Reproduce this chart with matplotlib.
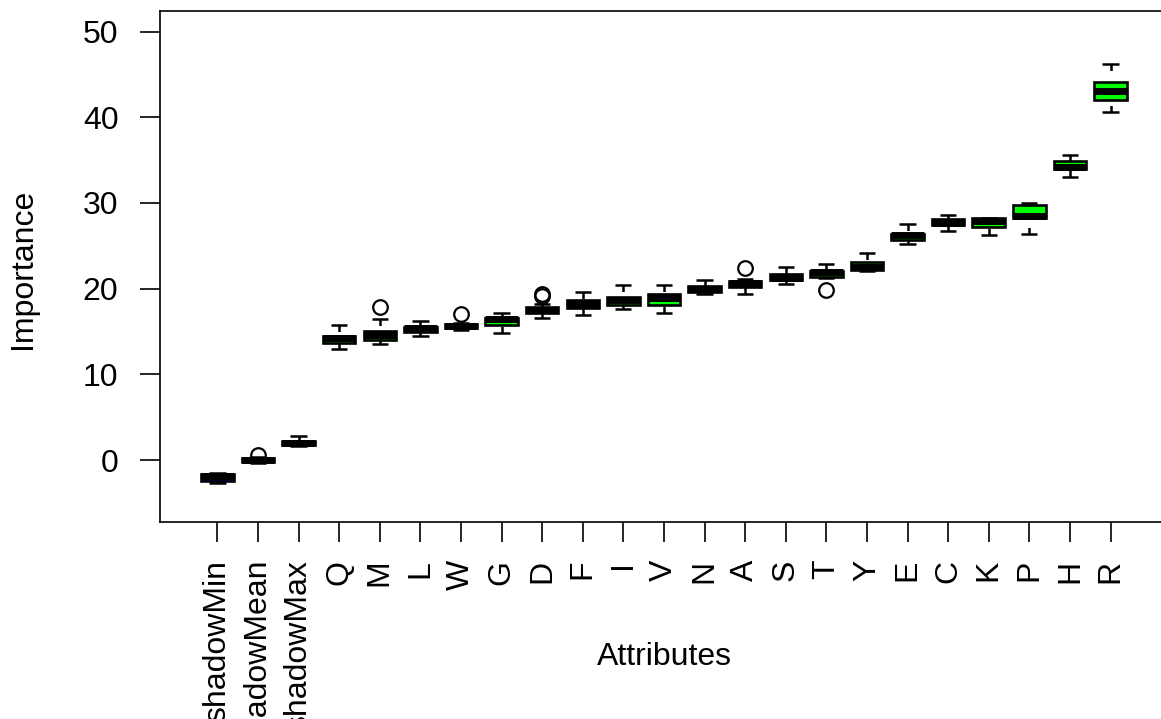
import matplotlib.pyplot as plt

plt.rcParams['font.family'] = ['Liberation Sans', 'DejaVu Sans']
plt.rcParams['lines.scale_dashes'] = False

attributes = ["shadowMin", "shadowMean", "shadowMax", "Q", "M", "L", "W", "G",
              "D", "F", "I", "V", "N", "A", "S", "T", "Y", "E", "C", "K",
              "P", "H", "R"]

# five-number summaries of the importance runs per attribute
whis_lo = [-2.7, -0.4, 1.6, 12.9, 13.5, 14.5, 15.2, 14.8, 16.6, 16.9, 17.6, 17.2,
           19.4, 19.4, 20.5, 21.2, 22.1, 25.2, 26.7, 26.3, 26.4, 33.0, 40.6]
q1 = [-2.45, -0.2, 1.75, 13.6, 14.05, 14.9, 15.35, 15.7, 17.2, 17.7, 18.05, 18.1,
      19.6, 20.15, 21.05, 21.35, 22.2, 25.7, 27.4, 27.2, 28.2, 33.95, 42.05]
med = [-1.85, 0.0, 2.0, 14.2, 14.55, 15.4, 15.6, 16.4, 17.5, 18.15, 18.7, 18.85,
       20.0, 20.6, 21.2, 21.95, 22.5, 26.3, 27.7, 27.95, 28.45, 34.2, 43.1]
q3 = [-1.6, 0.25, 2.2, 14.45, 15.05, 15.55, 15.9, 16.55, 17.9, 18.7, 19.0, 19.4,
      20.3, 20.9, 21.7, 22.1, 23.1, 26.4, 28.15, 28.2, 29.8, 34.85, 44.1]
whis_hi = [-1.5, 0.3, 2.8, 15.7, 16.4, 16.2, 16.0, 17.1, 18.2, 19.65, 20.45, 20.4,
           21.0, 21.1, 22.55, 22.85, 24.2, 27.5, 28.65, 28.3, 30.05, 35.6, 46.2]
outliers = {"shadowMean": [0.6], "M": [17.9], "W": [17.0], "D": [19.1, 19.4],
            "A": [22.4], "T": [19.85]}
decision = ["shadow"] * 3 + ["Confirmed"] * 20

colors = {"shadow": "#0000FF", "Confirmed": "#00FF00"}

stats = []
for i, name in enumerate(attributes):
    stats.append({"label": name, "whislo": whis_lo[i], "q1": q1[i], "med": med[i],
                  "q3": q3[i], "whishi": whis_hi[i],
                  "fliers": outliers.get(name, [])})

fig = plt.figure(figsize=(11.61, 7.19), dpi=100)
ax = fig.add_axes([0.1378, 0.2744, 0.8682, 0.7103])

positions = list(range(1, len(attributes) + 1))
bp = ax.bxp(stats, positions=positions, widths=0.8, patch_artist=True,
            boxprops=dict(linewidth=1.9, edgecolor="black"),
            medianprops=dict(color="black", linewidth=5.0, solid_capstyle="butt"),
            whiskerprops=dict(color="black", linewidth=1.8,
                              linestyle=(0, (4.7, 9.4))),
            capprops=dict(color="black", linewidth=1.8, solid_capstyle="butt"),
            flierprops=dict(marker="o", markersize=10.5, markerfacecolor="none",
                            markeredgecolor="black", markeredgewidth=1.6))

for patch, d in zip(bp["boxes"], decision):
    patch.set_facecolor(colors[d])

# dashes start at the whisker end, as in R
for line in bp["whiskers"]:
    x, y = line.get_data()
    line.set_data(x[::-1], y[::-1])

ax.set_xlim(-0.415, 24.415)
ax.set_ylim(-7.2, 52.4)
ax.set_yticks([0, 10, 20, 30, 40, 50])
ax.set_xticks(positions)
ax.set_xticklabels(attributes, rotation=90, va="top", ha="center")

ax.tick_params(axis="both", labelsize=23, length=14.4, width=1.2, colors="black")
ax.tick_params(axis="x", pad=13)
ax.tick_params(axis="y", pad=15.5)
for sp in ax.spines.values():
    sp.set_linewidth(1.2)

ax.set_xlabel("Attributes", fontsize=23, va="center")
ax.xaxis.set_label_coords(0.5, -0.265)
ax.set_ylabel("Importance", fontsize=23, va="center")
ax.yaxis.set_label_coords(-0.136, 0.495)

fig.savefig("out.png", dpi=100)
